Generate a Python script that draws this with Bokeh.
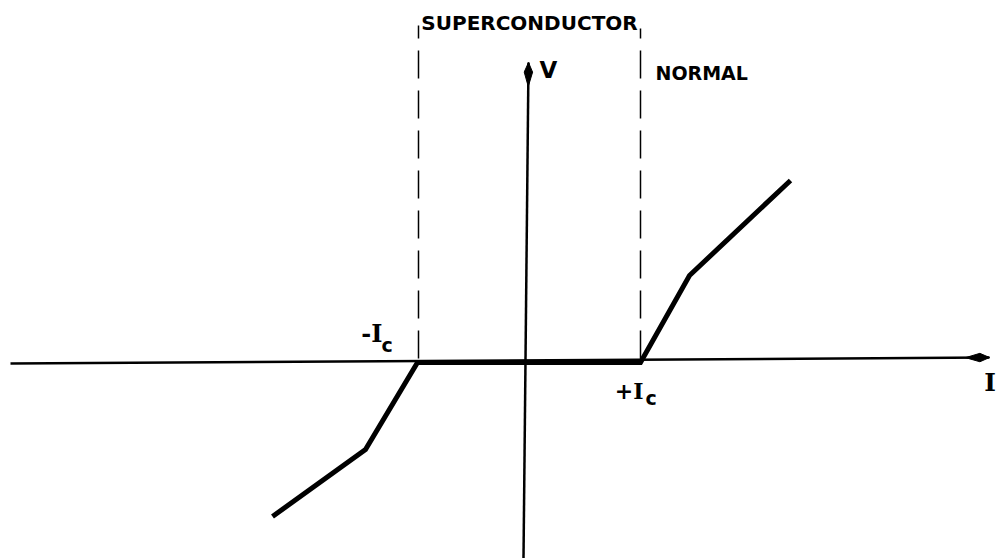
import numpy as np
from bokeh.plotting import figure
from bokeh.models import Range1d, Label
from bokeh.embed import file_html
from bokeh.resources import INLINE

# Data (I and V in arbitrary units; 1 unit = 100 px)
I_curve = [-2.53, -1.60, -1.08, 1.15, 1.64, 2.65]
V_curve = [-1.54, -0.87, 0.0, 0.0, 0.87, 1.82]
ic_neg = -1.07
ic_pos = 1.15
axisI_x = [-5.15, 4.64]
axisI_y = [-0.01, 0.05]
axisV_x = [-0.02, 0.03]
axisV_y = [-1.96, 3.00]
dash_top = [3.37, 3.34]
dash_bottom = 0.04
region_labels = ["SUPERCONDUCTOR", "NORMAL"]

W, H = 1002, 558
p = figure(width=W, height=H, output_backend="svg", toolbar_location=None,
           x_range=Range1d(-5.25, 4.77), y_range=Range1d(-1.96, 3.62),
           min_border=0, outline_line_color=None)
p.axis.visible = False
p.grid.visible = False
p.background_fill_color = "white"
p.border_fill_color = "white"


def arrow_head(xs, ys, length=0.24, half_w=0.042):
    x0, x1 = xs
    y0, y1 = ys
    d = np.array([x1 - x0, y1 - y0])
    d = d / np.hypot(*d)
    n = np.array([-d[1], d[0]])
    tip = np.array([x1, y1])
    base = tip - d * length
    mid = tip - d * length * 0.4
    pts = [tip, mid + n * half_w, base, mid - n * half_w]
    return [q[0] for q in pts], [q[1] for q in pts]


# axes
p.line(axisI_x, axisI_y, line_color="black", line_width=2.5)
hx, hy = arrow_head(axisI_x, axisI_y)
p.patch(hx, hy, fill_color="black", line_color="black", line_width=1)
p.line(axisV_x, axisV_y, line_color="black", line_width=2.5)
vx, vy = arrow_head(axisV_x, axisV_y)
p.patch(vx, vy, fill_color="black", line_color="black", line_width=1)

# dashed region boundaries
p.line([ic_neg, ic_neg], [dash_bottom, dash_top[0]], line_color="black",
       line_width=1.5, line_dash="28 12")
p.line([ic_pos, ic_pos], [dash_bottom, dash_top[1]], line_color="black",
       line_width=1.5, line_dash="28 12")

# I-V characteristic
p.line(I_curve, V_curve, line_color="black", line_width=5, line_join="miter")

font = "DejaVu Sans"
serif = "DejaVu Serif"


def lab(x, y, text, f, size, align="left"):
    p.add_layout(Label(x=x, y=y, text=text, text_font=f, text_font_size=size,
                       text_align=align, text_baseline="alphabetic",
                       text_color="black", text_font_style="bold"))


lab((ic_neg + ic_pos) / 2, 3.40, region_labels[0], font, "20px", "center")
lab(ic_pos + 0.15, 2.90, region_labels[1], font, "19px")
lab(0.14, 2.93, "V", font, "23px")
lab(ic_neg - 0.36, 0.29, "-I", serif, "24px", "right")
lab(ic_neg - 0.37, 0.18, "c", font, "19px")
lab(ic_pos + 0.03, -0.28, "+I", serif, "22px", "right")
lab(ic_pos + 0.05, -0.35, "c", font, "19px")
lab(4.645, -0.20, "I", serif, "25px", "center")

open("out.html", "w").write(file_html(p, INLINE))
